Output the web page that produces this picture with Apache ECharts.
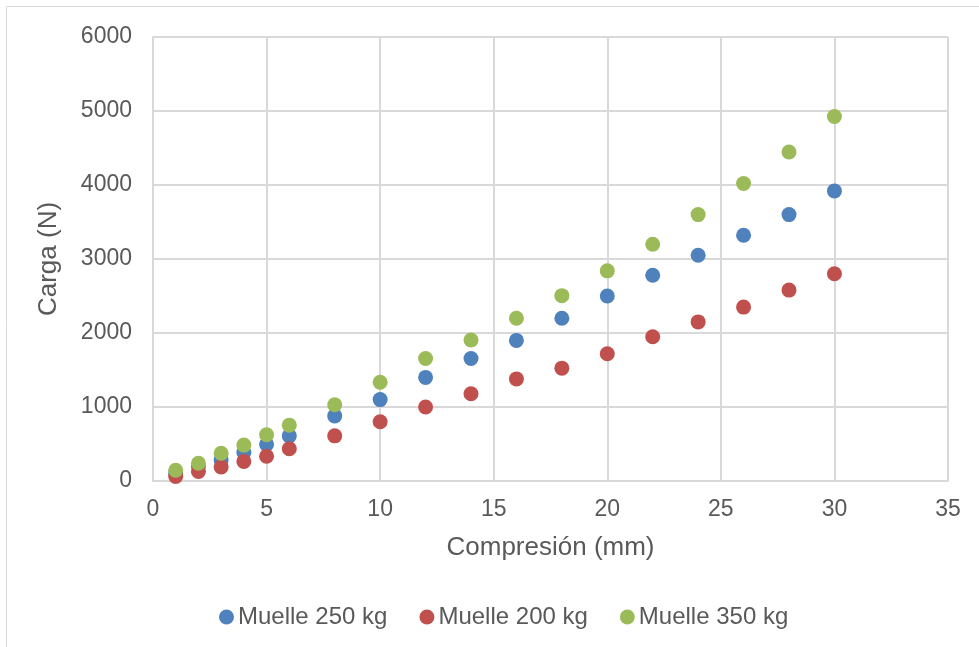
<!DOCTYPE html>
<html>
<head>
<meta charset="utf-8">
<script src="https://cdn.jsdelivr.net/npm/echarts@6/dist/echarts.min.js"></script>
<style>
  html, body { margin: 0; padding: 0; background: #fff; }
  #chart { width: 979px; height: 647px; }
</style>
</head>
<body>
<div id="chart"></div>
<script>
// Compression in mm
const compresion = [1, 2, 3, 4, 5, 6, 8, 10, 12, 14, 16, 18, 20, 22, 24, 26, 28, 30];
// Load in N for each spring
const muelle250 = [100, 200, 285, 385, 495, 610, 880, 1100, 1400, 1655, 1900, 2200, 2500, 2780, 3050, 3320, 3600, 3920];
const muelle200 = [60, 130, 190, 265, 335, 435, 610, 800, 1000, 1180, 1380, 1525, 1720, 1950, 2150, 2350, 2580, 2800];
const muelle350 = [145, 240, 375, 485, 625, 755, 1030, 1335, 1655, 1905, 2200, 2505, 2840, 3200, 3600, 4020, 4445, 4925];
const seriesNames = ['Muelle 250 kg', 'Muelle 200 kg', 'Muelle 350 kg'];
const seriesColors = ['#4F81BD', '#C0504D', '#9BBB59'];

const pairs = ys => compresion.map((x, i) => [x, ys[i]]);
const font = 'Liberation Sans, Arial, sans-serif';
const gridLine = { lineStyle: { color: '#d9d9d9', width: 2 } };

const chart = echarts.init(document.getElementById('chart'));
chart.setOption({
  animation: false,
  backgroundColor: '#fff',
  graphic: [{
    type: 'rect',
    shape: { x: 6.5, y: 6.5, width: 980, height: 660 },
    style: { fill: 'none', stroke: '#d9d9d9', lineWidth: 1 }
  }],
  grid: { left: 153, right: 31, top: 37, bottom: 166, containLabel: false },
  legend: {
    data: seriesNames,
    top: 600,
    left: 214,
    icon: 'circle',
    itemWidth: 15,
    itemHeight: 15,
    itemGap: 32,
    textStyle: { fontFamily: font, fontSize: 24, color: '#595959', padding: [0, 0, 0, -1] }
  },
  xAxis: {
    type: 'value',
    min: 0, max: 35, interval: 5,
    name: 'Compresión (mm)',
    nameLocation: 'middle',
    nameGap: 54,
    nameTextStyle: { fontFamily: font, fontSize: 26, color: '#595959' },
    axisLine: { show: true, lineStyle: { color: '#d9d9d9', width: 2 } },
    axisTick: { show: false },
    splitLine: { show: true, ...gridLine },
    axisLabel: { fontFamily: font, fontSize: 23, color: '#595959', margin: 17 }
  },
  yAxis: {
    type: 'value',
    min: 0, max: 6000, interval: 1000,
    name: 'Carga (N)',
    nameLocation: 'middle',
    nameGap: 91,
    nameTextStyle: { fontFamily: font, fontSize: 26, color: '#595959' },
    axisLine: { show: true, lineStyle: { color: '#d9d9d9', width: 2 } },
    axisTick: { show: false },
    splitLine: { show: true, ...gridLine },
    axisLabel: { fontFamily: font, fontSize: 23, color: '#595959', margin: 21, formatter: v => String(v) }
  },
  series: [muelle250, muelle200, muelle350].map((ys, i) => ({
    name: seriesNames[i],
    type: 'scatter',
    data: pairs(ys),
    symbol: 'circle',
    symbolSize: 15,
    itemStyle: { color: seriesColors[i], opacity: 1 }
  }))
});
</script>
</body>
</html>
